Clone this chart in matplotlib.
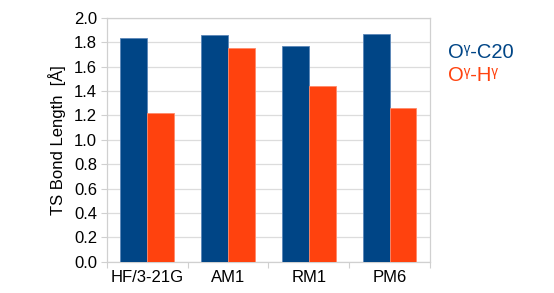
import matplotlib
matplotlib.use("Agg")
import matplotlib.pyplot as plt
import numpy as np

categories = ["HF/3-21G", "AM1", "RM1", "PM6"]
series_names = ["O\u1d5e-C20", "O\u1d5e-H\u1d5e"]
oc20 = [1.835, 1.857, 1.767, 1.866]
oh = [1.22, 1.756, 1.438, 1.258]
colors = ["#004586", "#ff420e"]
edge_colors = ["#5b86b8", "#ff8a6a"]

plt.rcParams['font.family'] = ['Liberation Sans', 'DejaVu Sans']

fig = plt.figure(figsize=(5.54, 2.93), dpi=100)
ax = fig.add_axes([0.193, 0.107, 0.583, 0.832])

x = np.arange(len(categories))
w = 1/3
ax.bar(x - w/2, oc20, width=w, color=colors[0], edgecolor=edge_colors[0], linewidth=0.6, zorder=3)
ax.bar(x + w/2, oh, width=w, color=colors[1], edgecolor=edge_colors[1], linewidth=0.6, zorder=3)

ax.set_xlim(-0.5, len(categories) - 0.5)
ax.set_ylim(0, 2.0)
ax.set_yticks(np.arange(0, 2.01, 0.2))
ax.set_yticklabels([f"{v:.1f}" for v in np.arange(0, 2.01, 0.2)])
ax.set_xticks(np.arange(-0.5, len(categories), 1.0))
ax.set_xticklabels([])
ax.set_xticks(x, minor=True)
ax.set_xticklabels(categories, minor=True)
ax.tick_params(axis='x', which='major', length=4, color='#d0d0d0', direction='out')
ax.tick_params(axis='x', which='minor', length=0, pad=6, labelsize=12)
ax.tick_params(axis='y', length=4, color='#d0d0d0', direction='out', labelsize=12, pad=3)

ax.grid(axis='y', color='#dcdcdc', linewidth=0.9, zorder=0)
for s in ax.spines.values():
    s.set_color('#d0d0d0')
    s.set_linewidth(0.9)

ax.set_ylabel("TS Bond Length  [Å]", fontsize=12, labelpad=6)

fig.text(0.808, 0.82, series_names[0], color=colors[0], fontsize=14.5, va='center', ha='left',
         family=['Liberation Sans', 'DejaVu Sans'])
fig.text(0.808, 0.742, series_names[1], color=colors[1], fontsize=14.5, va='center', ha='left',
         family=['Liberation Sans', 'DejaVu Sans'])

fig.savefig("out.png", dpi=100)
